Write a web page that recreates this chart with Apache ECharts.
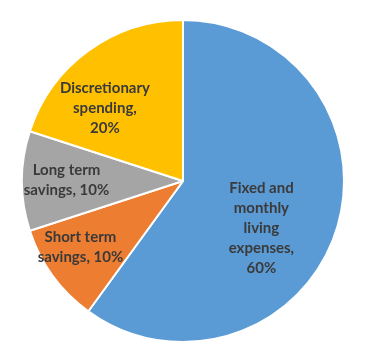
<!DOCTYPE html>
<html><head><meta charset="utf-8">
<script src="https://cdn.jsdelivr.net/npm/echarts@6/dist/echarts.min.js"></script>
<style>html,body{margin:0;padding:0;background:#fff}#c{width:370px;height:361px}</style>
</head><body><div id="c"></div>
<script>
const categories = ['Fixed and\nmonthly\nliving\nexpenses,', 'Short term\nsavings,', 'Long term\nsavings,', 'Discretionary\nspending,'];
const values = [60, 10, 10, 20];
const colors = ['#5B9BD5', '#ED7D31', '#A5A5A5', '#FFC000'];
const labelOffsets = [[-1, 21], [-35, 17], [-33, -1], [-29, -5]];
const inlinePct = [false, true, true, false];

const data = categories.map((c, i) => ({
  name: c, value: values[i],
  itemStyle: { color: colors[i] },
  label: { offset: labelOffsets[i], formatter: inlinePct[i] ? '{b} {c}%' : '{b}\n{c}%' }
}));

const chart = echarts.init(document.getElementById('c'), null, { renderer: 'canvas' });
chart.setOption({
  animation: false,
  series: [{
    type: 'pie',
    center: [183, 181],
    radius: [0, 161],
    startAngle: 90,
    clockwise: true,
    data: data,
    itemStyle: { borderColor: '#fff', borderWidth: 2 },
    label: {
      position: 'inside', color: '#3a3a3a', fontFamily: 'Lato', fontWeight: 'bold',
      fontSize: 15, lineHeight: 20, align: 'center'
    },
    labelLine: { show: false },
    emphasis: { disabled: true }
  }]
});
</script></body></html>
